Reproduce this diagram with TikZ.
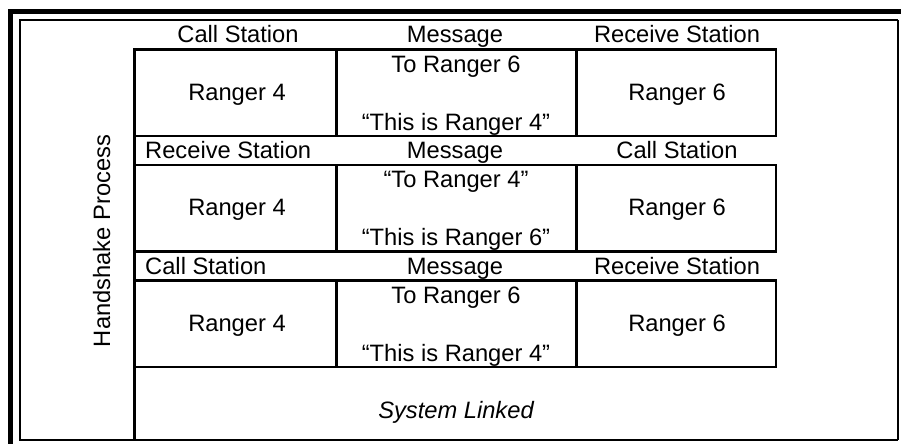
\documentclass[tikz,border=0pt]{standalone}
\usepackage{fontspec}
\setmainfont{Liberation Sans}
\begin{document}
\begin{tikzpicture}[x=1pt,y=-1pt,
  cell/.style={draw=black,line width=2.7pt,rectangle,inner sep=0pt,minimum height=86.5pt},
  lbl/.style={anchor=base,inner sep=0pt,font=\fontsize{23.7}{28}\selectfont},
  lbll/.style={anchor=base west,inner sep=0pt,font=\fontsize{23.7}{28}\selectfont}]
\useasboundingbox (0,0) rectangle (901,444);
% outer thick bars
\fill[black] (8,9) rectangle (13,444);
\fill[black] (8,9) rectangle (901,14);
% inner frame
\draw[line width=2pt] (898,20) -- (19.5,20) -- (19.5,439.5) -- (898,439.5);
\draw[line width=1.2pt] (898,20) -- (898,439.5);
% left divider
\coordinate (dtop) at (134.5,49.5);
\coordinate (dbot) at (134.5,439.5);
\draw[line width=2.7pt] (dtop) -- (dbot);
% rows
\foreach \r/\dy/\ha/\hb/\hc/\left/\ma/\mb in {
  1/0/Call Station/Message/Receive Station/0/To Ranger 6/“This is Ranger 4”,
  2/115.5/Receive Station/Message/Call Station/1/“To Ranger 4”/“This is Ranger 6”,
  3/231/Call Station/Message/Receive Station/1/To Ranger 6/“This is Ranger 4”}{
  \node[cell,minimum width=202pt] (a\r) at (235.5,92.75+\dy) {};
  \node[cell,minimum width=240pt] (b\r) at (456.5,92.75+\dy) {};
  \node[cell,minimum width=199.5pt] (c\r) at (676.25,92.75+\dy) {};
  \node[lbl] (ta\r) at (237,100+\dy) {Ranger 4};
  \node[lbl] (tc\r) at (677,100+\dy) {Ranger 6};
  \node[lbl] (m1\r) at (456,72+\dy) {\ma};
  \node[lbl] (m2\r) at (456,130+\dy) {\mb};
  \ifnum\left=0
    \node[lbl] (ha\r) at (238,43+\dy) {\ha};
  \else
    \node[lbll] (ha\r) at (145,43+\dy) {\ha};
  \fi
  \node[lbl] (hb\r) at (455,43+\dy) {\hb};
  \node[lbl] (hc\r) at (677,43+\dy) {\hc};
}
\node[lbl,rotate=90] (hs) at (110,241) {Handshake Process};
\node[lbl,font=\fontsize{23.7}{28}\selectfont\itshape] (sl) at (456,418) {System Linked};
\end{tikzpicture}
\end{document}
